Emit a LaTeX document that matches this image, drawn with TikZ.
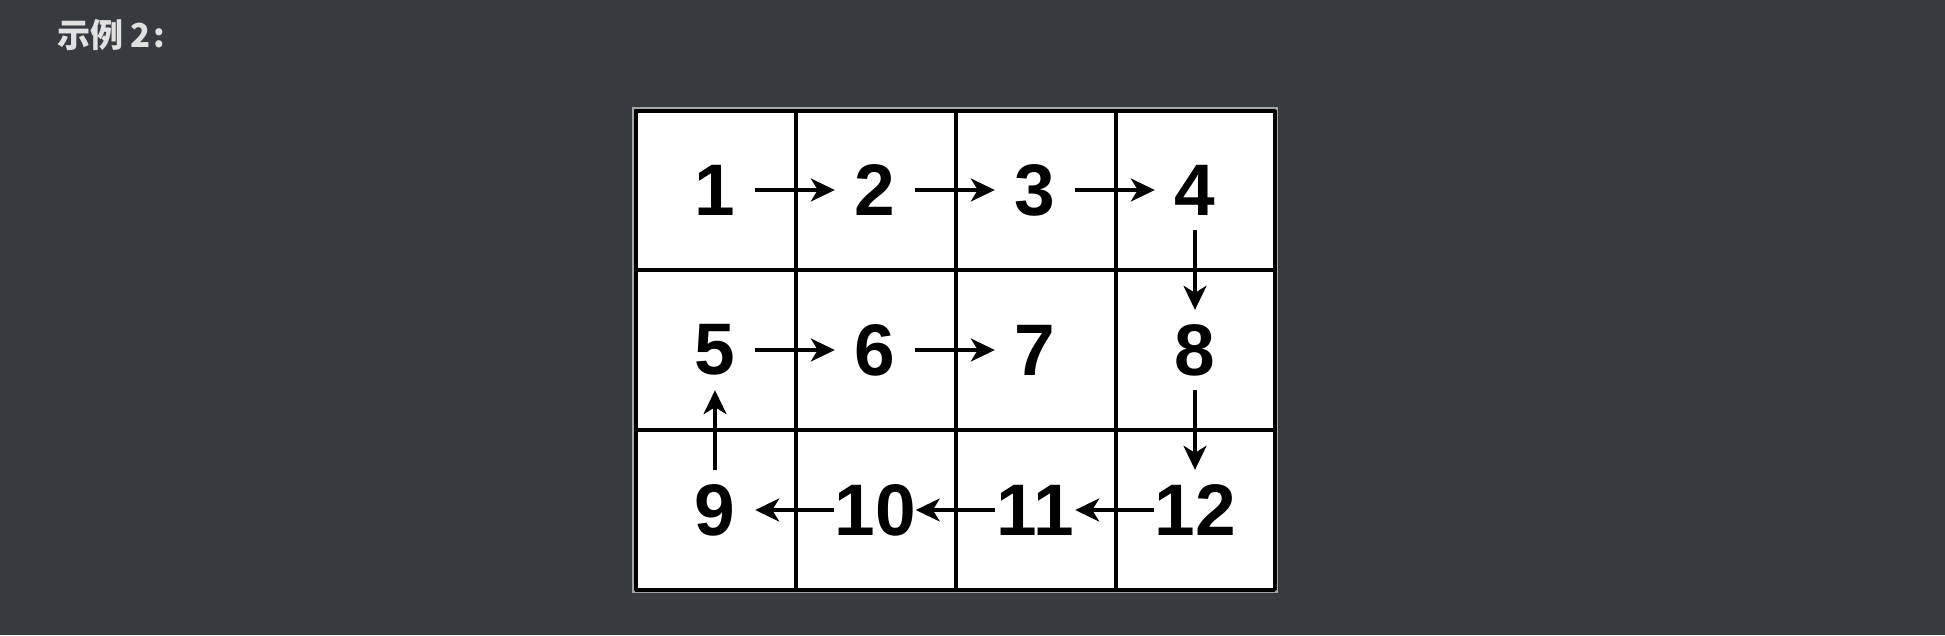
\documentclass[tikz,border=0pt]{standalone}
\usepackage{fontspec}
\setmainfont{Liberation Sans}
\newfontfamily\cjk{Noto Sans CJK SC}
\usetikzlibrary{arrows.meta}
\definecolor{bg}{RGB}{55,59,63}
\definecolor{titlecol}{RGB}{225,225,225}
\tikzset{
  num/.style={minimum width=80pt, minimum height=80pt, inner sep=0pt, font=\fontsize{73}{80}\selectfont\bfseries},
  flow/.style={line width=3.4pt, -{Stealth[length=24pt,width=23pt,inset=7pt]}},
  gridline/.style={line width=3.4pt, black},
}
\begin{document}
\begin{tikzpicture}[x=1pt,y=-1pt]
\fill[bg] (0,0) rectangle (1945,635);
\useasboundingbox (0,0) rectangle (1945,635);
\node[anchor=base west, inner sep=0pt, text=titlecol, font=\cjk\fontsize{33}{36}\selectfont\bfseries] (title) at (57,47) {示例 2\kern3pt:};
% grid
\fill[white] (635,110) rectangle (1275,590);
\draw[line width=1.2pt, gray!70] (633,108) rectangle (1277,592);
\foreach \x in {636,796,956,1116,1275} \draw[gridline] (\x,110) -- (\x,590);
\foreach \y in {111,270,430,590} \draw[gridline] (635,\y) -- (1275,\y);
% numbers
\node[num] (n1) at (715,190) {1};
\node[num] (n2) at (875,190) {2};
\node[num] (n3) at (1035,190) {3};
\node[num] (n4) at (1195,190) {4};
\node[num] (n5) at (715,350) {5};
\node[num] (n6) at (875,350) {6};
\node[num] (n7) at (1035,350) {7};
\node[num] (n8) at (1195,350) {8};
\node[num] (n9) at (715,510) {9};
\node[num] (n10) at (875,510) {10};
\node[num] (n11) at (1035,510) {11};
\node[num] (n12) at (1195,510) {12};
% arrows
\draw[flow] (n1) -- (n2);
\draw[flow] (n2) -- (n3);
\draw[flow] (n3) -- (n4);
\draw[flow] (n4) -- (n8);
\draw[flow] (n8) -- (n12);
\draw[flow] (n12) -- (n11);
\draw[flow] (n11) -- (n10);
\draw[flow] (n10) -- (n9);
\draw[flow] (n9) -- (n5);
\draw[flow] (n5) -- (n6);
\draw[flow] (n6) -- (n7);
\end{tikzpicture}
\end{document}
